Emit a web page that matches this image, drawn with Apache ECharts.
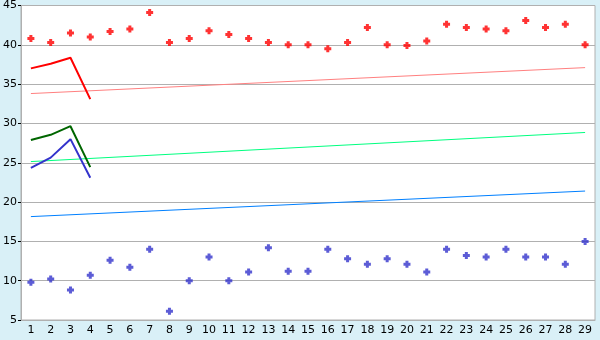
<!DOCTYPE html>
<html><head><meta charset="utf-8">
<script src="https://cdn.jsdelivr.net/npm/echarts@6/dist/echarts.min.js"></script>
<style>html,body{margin:0;padding:0;background:#d9f0f7;}#c{width:600px;height:340px;}</style>
</head><body><div id="c"></div>
<script>
var categories = ['1','2','3','4','5','6','7','8','9','10','11','12','13','14','15','16','17','18','19','20','21','22','23','24','25','26','27','28','29'];
var redPoints = [40.8,40.3,41.5,41.0,41.7,42.0,44.1,40.3,40.8,41.8,41.3,40.8,40.3,40.0,40.0,39.5,40.3,42.2,40.0,39.9,40.5,42.6,42.2,42.0,41.8,43.1,42.2,42.6,40.0];
var bluePoints = [9.8,10.2,8.8,10.7,12.6,11.7,14.0,6.1,10.0,13.0,10.0,11.1,14.2,11.2,11.2,14.0,12.8,12.1,12.8,12.1,11.1,14.0,13.2,13.0,14.0,13.0,13.0,12.1,15.0];
var redLine = [37.0,37.6,38.35,33.1];
var greenLine = [27.9,28.55,29.65,24.45];
var blueLine = [24.35,25.65,28.0,23.1];
var redTrend = [33.8,37.1];
var greenTrend = [25.15,28.85];
var blueTrend = [18.15,21.4];
var yTicks = {min:5,max:45,interval:5};

var plus = 'path://M2,0H5V2H7V5H5V7H2V5H0V2H2Z';
function trend(vals){ return [[0,vals[0]],[categories.length-1,vals[1]]]; }
var chart = echarts.init(document.getElementById('c'));
chart.setOption({
  animation:false,
  backgroundColor:'#d9f0f7',
  grid:{left:20,right:5,top:5,bottom:20,show:true,backgroundColor:'#ffffff',borderColor:'#b0b0b0',borderWidth:1},
  xAxis:{type:'category',data:categories,boundaryGap:true,
    axisLine:{lineStyle:{color:'#b0b0b0'}},
    axisTick:{alignWithLabel:true,length:4,lineStyle:{color:'#000'}},
    axisLabel:{color:'#000',fontFamily:'DejaVu Sans',fontSize:11,margin:5,interval:0},
    splitLine:{show:false}},
  yAxis:{type:'value',min:yTicks.min,max:yTicks.max,interval:yTicks.interval,
    axisLine:{show:true,lineStyle:{color:'#b0b0b0'}},
    axisTick:{show:true,length:3,lineStyle:{color:'#000'}},
    axisLabel:{color:'#000',fontFamily:'DejaVu Sans',fontSize:11,margin:4},
    splitLine:{lineStyle:{color:'#b0b0b0'}}},
  series:[
    {type:'line',data:trend(redTrend),symbol:'none',lineStyle:{color:'#ff8080',width:1}},
    {type:'line',data:trend(greenTrend),symbol:'none',lineStyle:{color:'#00ff80',width:1}},
    {type:'line',data:trend(blueTrend),symbol:'none',lineStyle:{color:'#0080ff',width:1}},
    {type:'line',data:redLine,symbol:'none',lineStyle:{color:'#ff0000',width:2}},
    {type:'line',data:greenLine,symbol:'none',lineStyle:{color:'#006600',width:2}},
    {type:'line',data:blueLine,symbol:'none',lineStyle:{color:'#3333cc',width:2}},
    {type:'scatter',data:redPoints,symbol:plus,symbolSize:7,itemStyle:{color:'#ff0000'}},
    {type:'scatter',data:bluePoints,symbol:plus,symbolSize:7,itemStyle:{color:'#3333cc'}}
  ]
});
</script></body></html>
